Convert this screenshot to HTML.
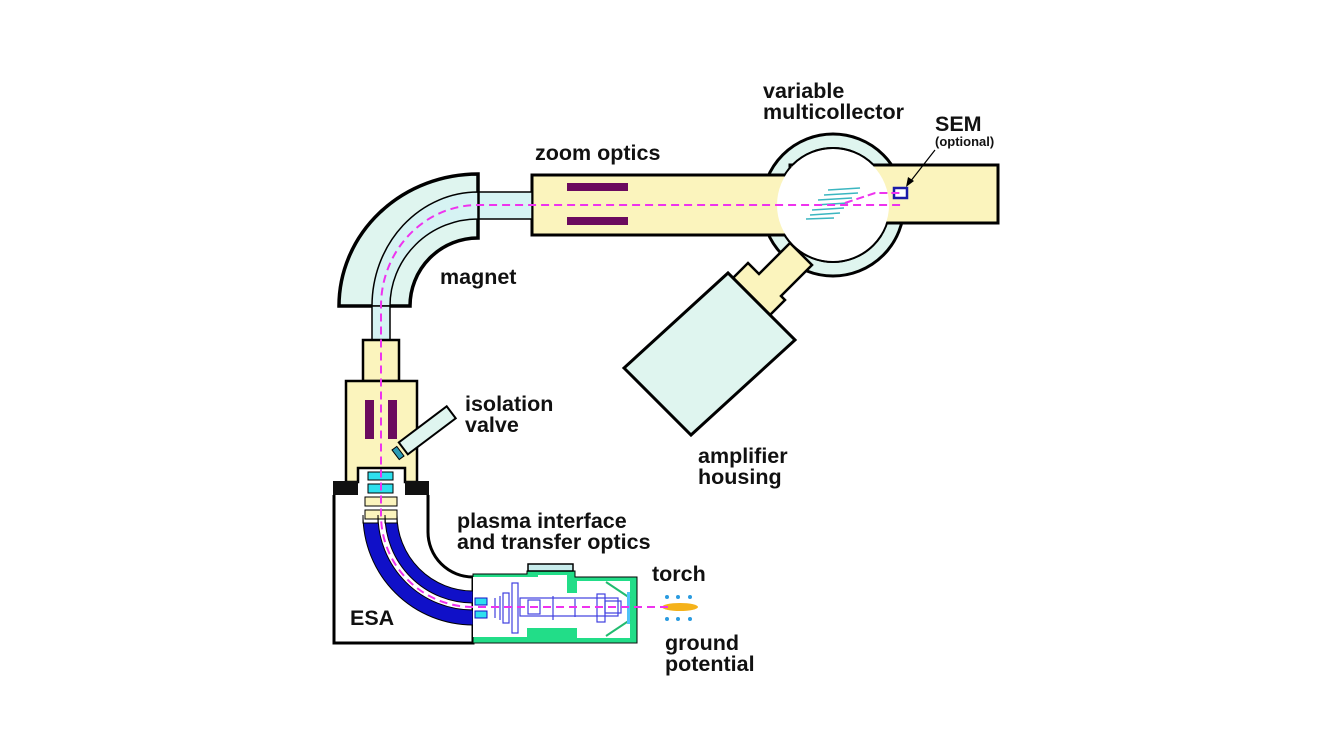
<!DOCTYPE html>
<html><head><meta charset="utf-8"><style>
html,body{margin:0;padding:0;background:#fff}
svg{display:block}
text{font-family:"Liberation Sans",Arial,sans-serif;font-weight:bold;fill:#111}
</style></head><body>
<svg width="1340" height="754" viewBox="0 0 1340 754" xmlns="http://www.w3.org/2000/svg">
<defs>
<clipPath id="nottube"><path d="M700 100H1000V165H700Z M700 235H1000V320H700Z"/></clipPath>
</defs>
<circle cx="833" cy="205" r="71" fill="#dff5ef" stroke="#000" stroke-width="3"/>
<circle cx="833" cy="205" r="57" fill="#fff" stroke="#000" stroke-width="2"/>
<polygon points="733,278 770,315 785,300 781,296 812,265 790,243 759,274 748,263" fill="#fbf4bd" stroke="#000" stroke-width="2.5"/>
<polygon points="624,368 691,435 795,340 728,273" fill="#dff5ef" stroke="#000" stroke-width="3"/>
<rect x="790" y="165" width="208" height="58" fill="#fbf4bd" stroke="#000" stroke-width="3"/>
<rect x="532" y="175" width="255" height="60" fill="#fbf4bd" stroke="#000" stroke-width="3"/>
<circle cx="833" cy="205" r="56" fill="#fff"/>
<circle cx="833" cy="205" r="57" fill="none" stroke="#000" stroke-width="2" clip-path="url(#nottube)"/>
<rect x="567" y="183" width="61" height="8" fill="#6b0a5e"/>
<rect x="567" y="217" width="61" height="8" fill="#6b0a5e"/>
<g stroke="#3bb6c0" stroke-width="1.5">
<line x1="828" y1="190" x2="860" y2="188"/><line x1="824" y1="195" x2="858" y2="193"/>
<line x1="818" y1="200" x2="852" y2="198"/><line x1="815" y1="205" x2="848" y2="203"/>
<line x1="812" y1="210" x2="844" y2="208"/><line x1="810" y1="215" x2="840" y2="213"/>
<line x1="806" y1="219" x2="834" y2="218"/>
</g>
<rect x="894" y="188" width="13" height="10" fill="#fff" stroke="#1a1aa8" stroke-width="2.5"/>
<rect x="478" y="192" width="54" height="27" fill="#d6f3f3" stroke="#000" stroke-width="1.5"/>
<path d="M478 174 A139 132 0 0 0 339 306 L410 306 A68 68 0 0 1 478 238 Z" fill="#dff5ef" stroke="#000" stroke-width="3.5"/>
<path d="M478 192 A106 114 0 0 0 372 306 L390 306 A88 87 0 0 1 478 219 Z" fill="#d6f3f3" stroke="#000" stroke-width="1.5"/>
<rect x="372" y="306" width="18" height="34" fill="#d6f3f3" stroke="#000" stroke-width="1.5"/>
<rect x="363" y="340" width="36" height="41" fill="#fbf4bd" stroke="#000" stroke-width="2.5"/>
<path d="M346 381 H417 V482 H405 V468 H358 V482 H346 Z" fill="#fbf4bd" stroke="#000" stroke-width="2.5"/>
<rect x="365" y="400" width="9" height="39" fill="#6b0a5e"/>
<rect x="388" y="400" width="9" height="39" fill="#6b0a5e"/>
<g transform="rotate(-37 403 448)">
<rect x="403" y="441" width="60" height="15" fill="#dff5ef" stroke="#000" stroke-width="2"/>
<rect x="393" y="443" width="6" height="12" fill="#2a9bb5" stroke="#000" stroke-width="1"/>
</g>
<path d="M334 495 V643 H473 V577 A45 45 0 0 1 428 532 V495" fill="#fff" stroke="#000" stroke-width="3"/>
<rect x="333" y="481" width="25" height="14" fill="#111"/>
<rect x="405" y="481" width="24" height="14" fill="#111"/>
<rect x="368" y="472" width="25" height="8" fill="#2ee0ee" stroke="#000" stroke-width="1"/>
<rect x="368" y="484" width="25" height="9" fill="#2ee0ee" stroke="#000" stroke-width="1"/>
<rect x="365" y="497" width="32" height="9" fill="#fbf4bd" stroke="#000" stroke-width="1"/>
<rect x="365" y="510" width="32" height="9" fill="#fbf4bd" stroke="#000" stroke-width="1"/>
<path d="M363 523 V515 A110 110 0 0 0 473 625 V610 A95 95 0 0 1 378 515 V523 Z" fill="#1010c8" stroke="#000" stroke-width="1"/>
<path d="M385 523 V515 A88 88 0 0 0 473 603 V591 A76 76 0 0 1 397 515 V523 Z" fill="#1010c8" stroke="#000" stroke-width="1"/>
<path d="M473 574 H527 V571 H575 V577 H637 V643 H473 Z" fill="#22dd88" stroke="#000" stroke-width="1"/>
<path d="M473 577 H538 V575 H567 V593 H577 V581 H630 V638 H577 V628 H527 V637 H473 Z" fill="#fff"/>
<rect x="527" y="628" width="50" height="10" fill="#22dd88"/>
<line x1="473" y1="643" x2="637" y2="643" stroke="#111" stroke-width="1"/>
<rect x="528" y="564" width="45" height="7" fill="#c8ecec" stroke="#000" stroke-width="1.5"/>
<g stroke="#22bb70" stroke-width="2"><line x1="606" y1="582" x2="630" y2="598"/><line x1="606" y1="636" x2="630" y2="620"/></g>
<rect x="627" y="592" width="3" height="32" fill="#4fc3f7"/>
<rect x="475" y="598" width="12" height="7" fill="#2ee0ee" stroke="#1010c8" stroke-width="1"/>
<rect x="475" y="611" width="12" height="7" fill="#2ee0ee" stroke="#1010c8" stroke-width="1"/>
<g stroke="#4040e0" stroke-width="1.2" fill="none">
<line x1="495" y1="598" x2="495" y2="618"/><line x1="500" y1="596" x2="500" y2="620"/>
<rect x="503" y="593" width="6" height="30"/><rect x="512" y="583" width="6" height="50"/>
<rect x="520" y="598" width="98" height="18"/><rect x="528" y="600" width="12" height="14"/>
<line x1="553" y1="596" x2="553" y2="620"/><line x1="575" y1="599" x2="575" y2="617"/>
<rect x="597" y="594" width="8" height="28"/><rect x="605" y="601" width="16" height="12"/>
</g>
<ellipse cx="680" cy="607" rx="18" ry="4" fill="#f5b21a"/>
<g fill="#2a9be0"><circle cx="667" cy="597" r="2"/><circle cx="678" cy="597" r="2"/><circle cx="690" cy="597" r="2"/>
<circle cx="667" cy="619" r="2"/><circle cx="678" cy="619" r="2"/><circle cx="690" cy="619" r="2"/></g>
<path d="M668 607 H473 A92 92 0 0 1 381 515 V306 A97 101 0 0 1 478 205 H905" fill="none" stroke="#ee33ee" stroke-width="2" stroke-dasharray="8,5"/>
<path d="M845 203 L875 193 H900" fill="none" stroke="#ee33ee" stroke-width="2" stroke-dasharray="8,4"/>
<line x1="935" y1="150" x2="910" y2="182" stroke="#000" stroke-width="1.2"/>
<polygon points="906,187 908,177 914,181" fill="#000"/>
<g font-size="21.5">
<text x="535" y="160">zoom optics</text>
<text x="763" y="98">variable</text>
<text x="763" y="119">multicollector</text>
<text x="935" y="131">SEM</text>
<text x="440" y="284">magnet</text>
<text x="465" y="411">isolation</text>
<text x="465" y="432">valve</text>
<text x="698" y="463">amplifier</text>
<text x="698" y="484">housing</text>
<text x="457" y="528">plasma interface</text>
<text x="457" y="549">and transfer optics</text>
<text x="652" y="581">torch</text>
<text x="665" y="650">ground</text>
<text x="665" y="671">potential</text>
<text x="350" y="625">ESA</text>
</g>
<text x="935" y="146" font-size="13">(optional)</text>
</svg>
</body></html>
